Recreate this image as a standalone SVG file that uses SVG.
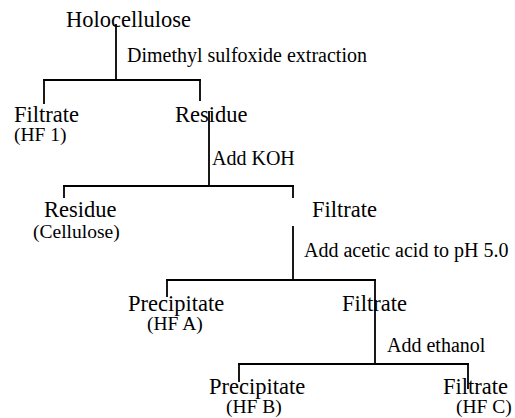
<svg xmlns="http://www.w3.org/2000/svg" width="515" height="418" viewBox="0 0 515 418">
<style>
  .main { font-family: "Liberation Serif", "Times New Roman", serif; font-size: 22.5px; fill: #000; }
  .sub { font-family: "Liberation Serif", "Times New Roman", serif; font-size: 19.5px; fill: #000; }
  .step { font-family: "Liberation Serif", "Times New Roman", serif; font-size: 20px; fill: #000; }
  .conn line { stroke: #000; stroke-width: 1.8; stroke-linecap: square; }
</style>
<rect width="515" height="418" fill="#fff"/>
<g id="connectors" class="conn">
  <line x1="116" y1="25" x2="116" y2="80"/>
  <line x1="44" y1="80" x2="200" y2="80"/>
  <line x1="44" y1="80" x2="44" y2="103"/>
  <line x1="200" y1="80" x2="200" y2="100"/>
  <line x1="209" y1="112" x2="209" y2="186"/>
  <line x1="64" y1="186" x2="293" y2="186"/>
  <line x1="64" y1="186" x2="64" y2="197"/>
  <line x1="293" y1="186" x2="293" y2="197"/>
  <line x1="293" y1="227" x2="293" y2="280"/>
  <line x1="167" y1="280" x2="375" y2="280"/>
  <line x1="167" y1="280" x2="167" y2="296"/>
  <line x1="375" y1="280" x2="375" y2="364"/>
  <line x1="239" y1="364" x2="468" y2="364"/>
  <line x1="239" y1="364" x2="239" y2="381"/>
  <line x1="468" y1="364" x2="468" y2="388"/>
</g>
<g id="holocellulose"><text class="main" x="66" y="27">Holocellulose</text></g>
<g id="step-dmso"><text class="step" x="127" y="62">Dimethyl sulfoxide extraction</text></g>
<g id="filtrate-hf1"><text class="main" x="14" y="122">Filtrate</text><text class="sub" x="14" y="141">(HF 1)</text></g>
<g id="residue-1"><text class="main" x="175" y="122">Residue</text></g>
<g id="step-koh"><text class="step" x="212" y="165">Add KOH</text></g>
<g id="residue-cellulose"><text class="main" x="44" y="217">Residue</text><text class="sub" x="33" y="238">(Cellulose)</text></g>
<g id="filtrate-2"><text class="main" x="312" y="217">Filtrate</text></g>
<g id="step-acid"><text class="step" x="304" y="257">Add acetic acid to pH 5.0</text></g>
<g id="precipitate-hfa"><text class="main" x="128" y="311">Precipitate</text><text class="sub" x="147" y="330">(HF A)</text></g>
<g id="filtrate-3"><text class="main" x="342" y="311">Filtrate</text></g>
<g id="step-ethanol"><text class="step" x="387" y="352">Add ethanol</text></g>
<g id="precipitate-hfb"><text class="main" x="209" y="394">Precipitate</text><text class="sub" x="226" y="413">(HF B)</text></g>
<g id="filtrate-hfc"><text class="main" x="443" y="394">Filtrate</text><text class="sub" x="456" y="413">(HF C)</text></g>
</svg>
